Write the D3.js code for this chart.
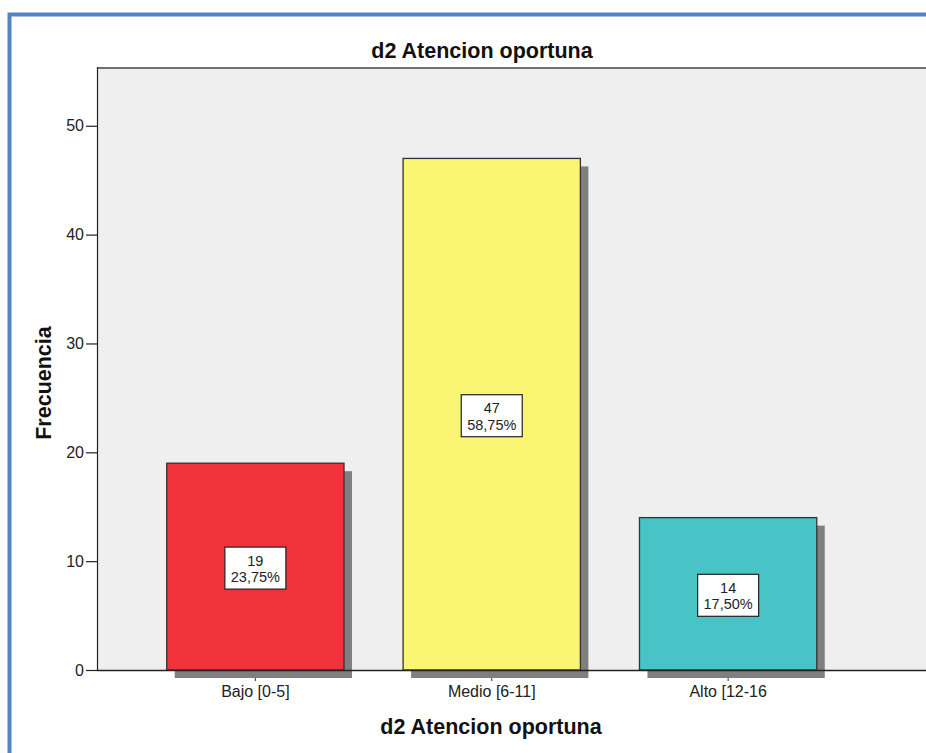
<!DOCTYPE html>
<html>
<head>
<meta charset="utf-8">
<script src="https://cdn.jsdelivr.net/npm/d3@7"></script>
<style>
  html, body { margin: 0; padding: 0; background: #ffffff; }
  svg { display: block; font-family: "Liberation Sans", Arial, sans-serif; }
</style>
</head>
<body>
<svg id="chart" width="926" height="753"></svg>
<script>
// Frequency table for "d2 Atencion oportuna"
const categories = ["Bajo [0-5]", "Medio [6-11]", "Alto [12-16"];
const counts = [19, 47, 14];
const barColors = ["#f0323a", "#faf572", "#48c3c6"];
const yTicks = [0, 10, 20, 30, 40, 50];
const total = d3.sum(counts);

const svg = d3.select("#chart");

// Outer blue frame (top and left edges fall inside the page)
svg.append("path")
  .attr("d", "M9.5,1000V14.5H1000")
  .attr("fill", "none")
  .attr("stroke", "#5283c2")
  .attr("stroke-width", 4);

// Plot region
const plot = { left: 97, right: 926, top: 67, bottom: 670 };

const x = d3.scaleBand()
  .domain(categories)
  .range([plot.left, 886.5])
  .paddingInner(0.25)
  .paddingOuter(0.295);

const y = d3.scaleLinear()
  .domain([0, 55.4])
  .range([plot.bottom, plot.top]);

// Plot background
svg.append("rect")
  .attr("x", plot.left).attr("y", plot.top)
  .attr("width", plot.right - plot.left).attr("height", plot.bottom - plot.top)
  .attr("fill", "#efefef");

// Top border of the plot area
svg.append("line")
  .attr("x1", plot.left).attr("x2", 926)
  .attr("y1", plot.top + 1).attr("y2", plot.top + 1)
  .attr("stroke", "#6f6f6f").attr("stroke-width", 2);

// Category tick marks (mostly hidden under the bar shadows)
const xAxis = d3.axisBottom(x).tickSize(11).tickFormat("");
const gx = svg.append("g")
  .attr("transform", `translate(0,${plot.bottom})`)
  .call(xAxis);
gx.select(".domain").remove();
gx.selectAll(".tick line").attr("stroke", "#333333");

const data = categories.map((c, i) => ({ cat: c, n: counts[i], color: barColors[i] }));

// Bar shadows
svg.append("g").selectAll("rect")
  .data(data).join("rect")
  .attr("x", d => x(d.cat) + 8)
  .attr("y", d => y(d.n) + 8)
  .attr("width", x.bandwidth())
  .attr("height", d => plot.bottom - y(d.n))
  .attr("fill", "#7f7f7f");

// Bars
svg.append("g").selectAll("rect")
  .data(data).join("rect")
  .attr("x", d => x(d.cat))
  .attr("y", d => y(d.n))
  .attr("width", x.bandwidth())
  .attr("height", d => plot.bottom - y(d.n))
  .attr("fill", d => d.color)
  .attr("stroke", "#333333")
  .attr("stroke-width", 1.3);

// Bottom axis line
svg.append("line")
  .attr("x1", plot.left).attr("x2", 926)
  .attr("y1", plot.bottom + 0.5).attr("y2", plot.bottom + 0.5)
  .attr("stroke", "#222222").attr("stroke-width", 1.6);

// Y axis
const yAxis = d3.axisLeft(y).tickValues(yTicks).tickSize(11).tickPadding(2).tickFormat(d3.format("d"));
const gy = svg.append("g")
  .attr("transform", `translate(${plot.left},0)`)
  .call(yAxis);
gy.select(".domain")
  .attr("d", `M0.5,${plot.top}V${plot.bottom}`)
  .attr("stroke", "#222222").attr("stroke-width", 1.2);
gy.selectAll(".tick line").attr("stroke", "#222222").attr("stroke-width", 1.2);
gy.selectAll(".tick text")
  .attr("font-size", 16)
  .attr("font-family", "Liberation Sans, Arial, sans-serif")
  .attr("fill", "#222222");

// Category labels
svg.append("g").selectAll("text")
  .data(data).join("text")
  .attr("x", d => x(d.cat) + x.bandwidth() / 2)
  .attr("y", 697)
  .attr("text-anchor", "middle")
  .attr("font-size", 16)
  .attr("fill", "#222222")
  .text(d => d.cat);

// Value labels: count and percentage in a white box
const fmtPct = v => (v * 100).toFixed(2).replace(".", ",") + "%";
const lbl = svg.append("g").selectAll("g")
  .data(data).join("g")
  .attr("transform", d => {
    const cx = x(d.cat) + x.bandwidth() / 2;
    const cy = (y(d.n) + plot.bottom) / 2 + 1.5;
    return `translate(${cx},${cy})`;
  });
lbl.append("rect")
  .attr("x", -30.5).attr("y", -21)
  .attr("width", 61).attr("height", 42)
  .attr("fill", "#ffffff")
  .attr("stroke", "#222222").attr("stroke-width", 1.2);
lbl.append("text")
  .attr("y", -2.5)
  .attr("text-anchor", "middle")
  .attr("font-size", 14.5)
  .attr("fill", "#222222")
  .text(d => d.n);
lbl.append("text")
  .attr("y", 14)
  .attr("text-anchor", "middle")
  .attr("font-size", 14.5)
  .attr("fill", "#222222")
  .text(d => fmtPct(d.n / total));

// Chart title
svg.append("text")
  .attr("x", 482).attr("y", 58)
  .attr("text-anchor", "middle")
  .attr("font-size", 21.5).attr("font-weight", "bold")
  .attr("fill", "#111111")
  .text("d2 Atencion oportuna");

// Axis titles
svg.append("text")
  .attr("x", 491).attr("y", 734)
  .attr("text-anchor", "middle")
  .attr("font-size", 21.5).attr("font-weight", "bold")
  .attr("fill", "#111111")
  .text("d2 Atencion oportuna");

svg.append("text")
  .attr("transform", "translate(51,383) rotate(-90)")
  .attr("text-anchor", "middle")
  .attr("font-size", 21.5).attr("font-weight", "bold")
  .attr("fill", "#111111")
  .text("Frecuencia");
</script>
</body>
</html>
